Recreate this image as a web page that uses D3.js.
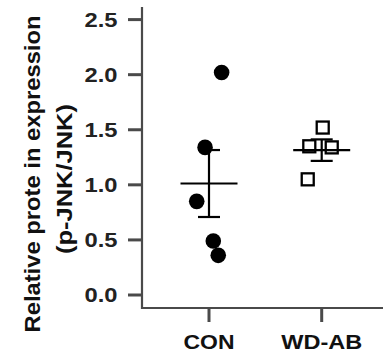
<!DOCTYPE html>
<html><head><meta charset="utf-8">
<script src="https://cdn.jsdelivr.net/npm/d3@7"></script>
<style>html,body{margin:0;padding:0;background:#fff;}svg{display:block;}</style>
</head><body>
<script>
// ---- data ----
const categories = ["CON", "WD-AB"];
const conValues = [2.02, 1.34, 0.85, 0.49, 0.36];
const wdabValues = [1.52, 1.35, 1.34, 1.05];
const yTicks = [0.0, 0.5, 1.0, 1.5, 2.0, 2.5];
const yTickLabels = ["0.0", "0.5", "1.0", "1.5", "2.0", "2.5"];
const yLabelLines = ["Relative prote in expression", "(p-JNK/JNK)"];
// scatter jitter (fraction of category step), layout only
const conJitter = [0.112, -0.035, -0.109, 0.038, 0.082];
const wdabJitter = [0.009, -0.11, 0.089, -0.124];

const W = 383, H = 358;
const svg = d3.select("body").append("svg").attr("width", W).attr("height", H);
const font = "'Liberation Sans', Arial, Helvetica, sans-serif";
const axisColor = "#4a4a4a";

const y = d3.scaleLinear().domain([0, 2.5]).range([295, 19.6]);
const x = d3.scalePoint().domain(categories).range([209, 321.7]);
const step = x(categories[1]) - x(categories[0]);

// y axis line
const axisX = 142, axisBottom = 308;
svg.append("line").attr("x1", axisX).attr("x2", axisX).attr("y1", 7).attr("y2", axisBottom + 1)
  .attr("stroke", axisColor).attr("stroke-width", 2.2);
svg.append("line").attr("x1", axisX - 1).attr("x2", W).attr("y1", axisBottom).attr("y2", axisBottom)
  .attr("stroke", axisColor).attr("stroke-width", 2.2);

// y ticks
const yt = svg.append("g");
yTicks.forEach((t, i) => {
  yt.append("line").attr("x1", 128).attr("x2", axisX).attr("y1", y(t)).attr("y2", y(t))
    .attr("stroke", axisColor).attr("stroke-width", 3);
  yt.append("text").attr("x", 117.5).attr("y", y(t) + 7.3).attr("text-anchor", "end")
    .attr("font-family", font).attr("font-weight", "bold").attr("font-size", 20)
    .attr("fill", "#222").attr("textLength", 33).attr("lengthAdjust", "spacingAndGlyphs")
    .text(yTickLabels[i]);
});

// x ticks
categories.forEach((c, i) => {
  svg.append("line").attr("x1", x(c)).attr("x2", x(c)).attr("y1", axisBottom).attr("y2", 322)
    .attr("stroke", axisColor).attr("stroke-width", 3);
  svg.append("text").attr("x", x(c)).attr("y", 349).attr("text-anchor", "middle")
    .attr("font-family", font).attr("font-weight", "bold").attr("font-size", 21)
    .attr("fill", "#111").attr("textLength", i === 0 ? 51 : 81).attr("lengthAdjust", "spacingAndGlyphs")
    .text(c);
});

// y label
svg.append("text").attr("transform", "translate(40,174) rotate(-90)").attr("text-anchor", "middle")
  .attr("font-family", font).attr("font-weight", "bold").attr("font-size", 22)
  .attr("fill", "#111").attr("textLength", 317).attr("lengthAdjust", "spacingAndGlyphs")
  .text(yLabelLines[0]);
svg.append("text").attr("transform", "translate(72,179) rotate(-90)").attr("text-anchor", "middle")
  .attr("font-family", font).attr("font-weight", "bold").attr("font-size", 22)
  .attr("fill", "#111").attr("textLength", 150).attr("lengthAdjust", "spacingAndGlyphs")
  .text(yLabelLines[1]);

// stats
function stats(v) {
  const m = d3.mean(v), sd = d3.deviation(v);
  return {m, sem: sd / Math.sqrt(v.length)};
}
function drawMeanSem(cat, v) {
  const s = stats(v), cx = x(cat);
  const g = svg.append("g").attr("stroke", "#000").attr("stroke-width", 2.2);
  g.append("line").attr("x1", cx - 28.5).attr("x2", cx + 28.5).attr("y1", y(s.m)).attr("y2", y(s.m));
  g.append("line").attr("x1", cx).attr("x2", cx).attr("y1", y(s.m + s.sem)).attr("y2", y(s.m - s.sem));
  [s.m + s.sem, s.m - s.sem].forEach(e => {
    g.append("line").attr("x1", cx - 11).attr("x2", cx + 11).attr("y1", y(e)).attr("y2", y(e));
  });
}

// CON dots
svg.append("g").selectAll("circle").data(conValues).join("circle")
  .attr("cx", (d, i) => x("CON") + conJitter[i] * step)
  .attr("cy", d => y(d)).attr("r", 7.8).attr("fill", "#000");
drawMeanSem("CON", conValues);

// WD-AB squares
const sq = 12;
svg.append("g").selectAll("rect").data(wdabValues).join("rect")
  .attr("x", (d, i) => x("WD-AB") + wdabJitter[i] * step - sq / 2)
  .attr("y", d => y(d) - sq / 2).attr("width", sq).attr("height", sq)
  .attr("fill", "none").attr("stroke", "#000").attr("stroke-width", 2.3);
drawMeanSem("WD-AB", wdabValues);
</script>
</body></html>
